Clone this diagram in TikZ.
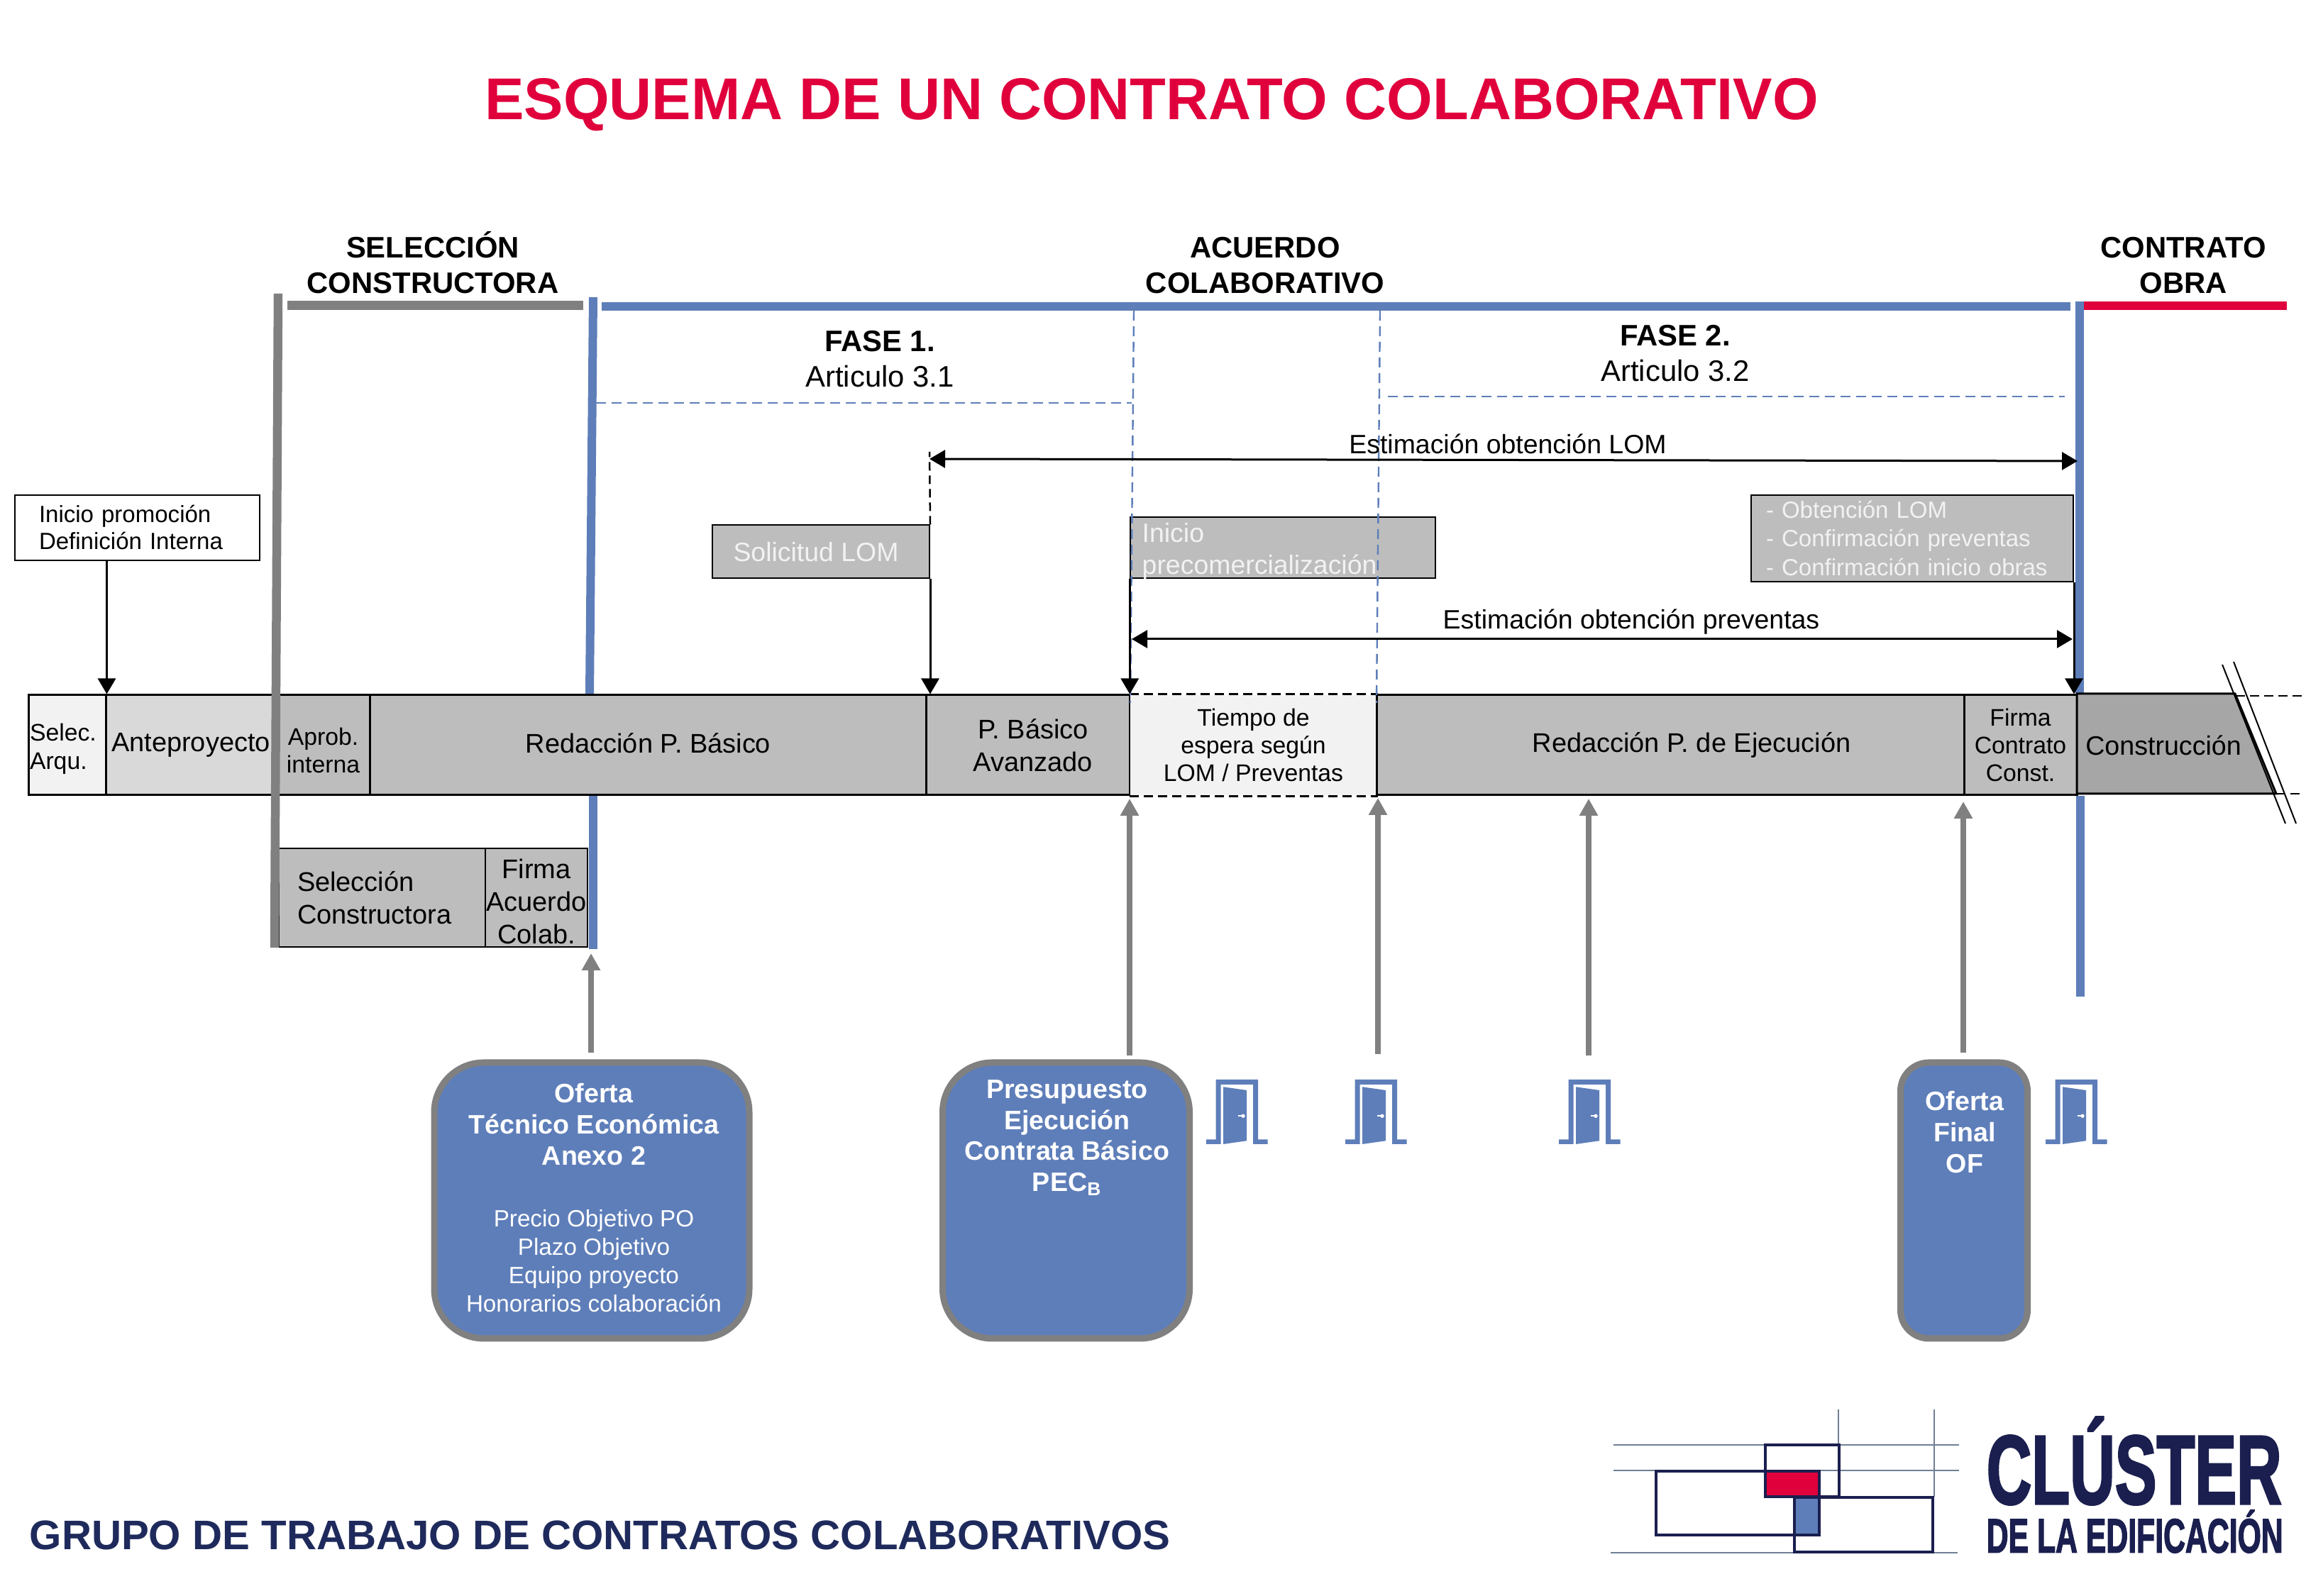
\documentclass[tikz,border=0pt]{standalone}
\usepackage{fontspec}
\setmainfont{Liberation Sans}
\newfontfamily\logofont[BoldFeatures={FakeBold=2.5}]{Liberation Sans}
\usepackage{graphicx}
\usepackage{xcolor}
\usepackage{tikz}
\usetikzlibrary{arrows.meta,positioning}
\definecolor{barblue}{HTML}{5E7EB9}
\definecolor{bargray}{HTML}{808080}
\definecolor{barred}{HTML}{E0003C}
\definecolor{navy}{HTML}{1B1F4F}
\definecolor{footnavy}{HTML}{1F2A5C}
\definecolor{cellgray}{HTML}{BDBDBD}
\definecolor{cellmid}{HTML}{D9D9D9}
\definecolor{celllight}{HTML}{F2F2F2}
\definecolor{celldark}{HTML}{A6A6A6}
\definecolor{logoline}{HTML}{6F7F95}

\begin{document}
\begin{tikzpicture}[
 cell/.style={draw=black,line width=.03cm,fill=cellgray,minimum height=1.41cm,inner sep=0pt,align=center,font=\fontsize{10.8}{13.1}\selectfont},
 small/.style={font=\fontsize{9.6}{11.2}\selectfont},
 note/.style={draw=black,line width=.02cm,fill=cellgray,inner sep=0pt,text=celllight,align=left,font=\fontsize{10.65}{12.8}\selectfont},
 head/.style={align=center,font=\fontsize{11.9}{14.2}\selectfont\bfseries},
 fase/.style={align=center,font=\fontsize{11.9}{14.2}\selectfont},
 lab/.style={font=\fontsize{10.65}{12}\selectfont},
 blue box/.style={draw=bargray,line width=.09cm,fill=barblue,minimum height=3.89cm,inner sep=0pt},
 blue text/.style={text=white,align=center,font=\fontsize{10.7}{12.5}\selectfont\bfseries},
 data text/.style={text=white,align=center,font=\fontsize{9.45}{11.4}\selectfont},
 barblue line/.style={draw=barblue,line width=.12cm},
 bargray line/.style={draw=bargray,line width=.125cm},
 phase/.style={draw=barblue,line width=.024cm,dash pattern=on .14cm off .08cm},
 arr/.style={-{Triangle[length=.22cm,width=.25cm]},line width=.03cm,draw=black},
 darr/.style={{Triangle[length=.22cm,width=.25cm]}-{Triangle[length=.22cm,width=.25cm]},line width=.03cm,draw=black},
 garr/.style={-{Triangle[length=.24cm,width=.25cm]},line width=.08cm,draw=bargray},
 door/.pic={
  \fill[barblue] (0,0)--(0,.067)--(.137,.067)--(.137,.91)--(.73,.91)--(.73,.067)--(.867,.067)--(.867,0)--(.66,0)--(.66,.84)--(.207,.84)--(.207,0)--cycle;
  \fill[barblue] (.24,0)--(.24,.807)--(.57,.76)--(.57,.047)--cycle;
  \fill[white] (.52,.397) circle (.027);
  \draw[white,line width=.016cm] (.447,.397)--(.52,.397);
 }
]
\useasboundingbox (0,0) rectangle (32.5,22.5);

\node[text=barred,font=\fontsize{23.65}{28}\selectfont\bfseries] (titulo) at (16.23,21.02) {ESQUEMA DE UN CONTRATO COLABORATIVO};

\node[head] (hsel) at (6.10,18.80) {SELECCIÓN\\CONSTRUCTORA};
\node[head] (hacu) at (17.83,18.76) {ACUERDO\\COLABORATIVO};
\node[head] (hobr) at (30.77,18.76) {CONTRATO\\OBRA};
\node[fase] (f1) at (12.40,17.44) {\textbf{FASE 1.}\\Articulo 3.1};
\node[fase] (f2) at (23.61,17.52) {\textbf{FASE 2.}\\Articulo 3.2};

\draw[bargray line] (4.05,18.195)--(8.22,18.195);
\draw[barblue line] (8.48,18.18)--(29.18,18.18);
\draw[draw=barred,line width=.126cm] (29.37,18.19)--(32.23,18.19);
\draw[barblue line] (8.36,18.31)--(8.31,12.72);
\draw[barblue line] (8.355,11.28)--(8.355,9.12);
\draw[barblue line] (29.31,18.25)--(29.31,12.73);
\draw[barblue line] (29.32,11.28)--(29.32,8.45);
\draw[phase] (8.40,16.82)--(15.95,16.82);
\draw[phase] (19.56,16.91)--(29.10,16.91);

\node[cell,fill=celllight,minimum width=1.09cm,text width=1.05cm,inner xsep=.02cm,align=left,small] (selec) at (.945,11.995) {\rule{0pt}{.35cm}Selec.\\Arqu.};
\node[cell,fill=cellmid,minimum width=2.40cm] (ante) at (2.69,11.995) {Anteproyecto};
\node[cell,minimum width=1.33cm,small] (aprob) at (4.555,11.995) {\rule{0pt}{.39cm}Aprob.\\interna};
\node[cell,minimum width=7.835cm] (basico) at (9.135,11.995) {\raisebox{.05cm}{Redacción P. Básico}};
\node[cell,minimum width=2.875cm] (avanz) at (14.49,11.995) {\hspace*{.14cm}P. Básico\\\hspace*{.14cm}Avanzado};
\node[cell,draw=none,fill=celllight,minimum width=3.47cm,small] (tiempo) at (17.665,11.995) {Tiempo de\\espera según\\LOM / Preventas};
\node[cell,minimum width=8.28cm] (ejec) at (23.54,11.995) {\hspace*{.6cm}Redacción P. de Ejecución};
\node[cell,minimum width=1.59cm,small] (firmac) at (28.475,11.995) {Firma\\Contrato\\Const.};
\draw[line width=.03cm,dash pattern=on .13cm off .07cm] (tiempo.north west)--(tiempo.north east);
\draw[line width=.03cm,dash pattern=on .13cm off .07cm] (tiempo.south west)--(tiempo.south east);

\draw[line width=.03cm,fill=celldark] (29.27,12.72)--(31.50,12.72)--(32.08,11.31)--(29.27,11.31)--cycle;
\node[font=\fontsize{10.7}{13.1}\selectfont] (constr) at (30.49,11.99) {Construcción};
\draw[line width=.02cm] (31.32,13.13)--(32.21,10.89);
\draw[line width=.02cm] (31.48,13.17)--(32.36,10.89);
\draw[line width=.02cm,dash pattern=on .13cm off .07cm] (31.51,12.69)--(32.5,12.69);
\draw[line width=.02cm,dash pattern=on .13cm off .07cm] (32.08,11.31)--(32.45,11.31);

\node[cell,line width=.02cm,minimum width=2.91cm,minimum height=1.39cm,text width=2.39cm,inner xsep=.26cm,align=left] (selcons) at (5.385,9.845) {Selección\\Constructora};
\node[cell,line width=.02cm,minimum width=1.44cm,minimum height=1.39cm] (firmaa) at (7.56,9.845) {\rule{0pt}{.39cm}Firma\\Acuerdo\\Colab.};

\draw[bargray line] (3.92,18.36)--(3.87,9.14);

\node[draw=black,line width=.02cm,minimum width=3.445cm,minimum height=.92cm,text width=2.765cm,inner xsep=.34cm,inner ysep=0pt,align=left,font=\fontsize{9.4}{10.8}\selectfont] (inicio) at (1.9325,15.06) {Inicio promoción\\Definición Interna};
\node[note,minimum width=3.06cm,minimum height=.75cm,align=center] (solic) at (11.57,14.72) {\hspace*{-.14cm}Solicitud LOM};
\node[note,minimum width=4.295cm,minimum height=.864cm] (precom) at (18.08,14.78) {};
\node[text=celllight,anchor=west,inner sep=0pt,align=left,font=\fontsize{10.65}{12.8}\selectfont] (tprecom) at (16.09,14.73) {Inicio\\precomercialización};
\node[note,minimum width=4.54cm,minimum height=1.22cm,text width=4.12cm,inner xsep=.21cm,font=\fontsize{9.4}{11.4}\selectfont] (obten) at (26.95,14.91) {- Obtención LOM\\- Confirmación preventas\\- Confirmación inicio obras};

\draw[phase] (15.98,18.12)--(15.93,12.59);
\draw[phase] (19.45,18.12)--(19.40,12.59);

\coordinate (lomi) at (13.10,16.03);
\coordinate (lomd) at (29.28,16.00);
\coordinate (prei) at (15.95,13.49);
\coordinate (pred) at (29.21,13.49);
\draw[line width=.025cm,dash pattern=on .12cm off .07cm] (solic.north east)--(13.10,16.13);
\draw[darr] (lomi)--(lomd);
\draw[darr] (prei)--(pred);
\node[lab] (tlom) at (21.25,16.24) {Estimación obtención LOM};
\node[lab] (tpre) at (22.99,13.73) {Estimación obtención preventas};

\draw[arr] (inicio.south -| selec.north east)--(selec.north east);
\draw[arr] (solic.south east)--(solic.south east |- basico.north);
\draw[arr] (precom.south west)--(precom.south west |- tiempo.north);
\draw[arr] (obten.south east)--(obten.south east |- firmac.north);

\node[blue box,minimum width=4.44cm,rounded corners=.7cm] (oferta) at (8.34,5.575) {};
\node[blue text] (toferta) at (8.37,6.65) {Oferta\\Técnico Económica\\Anexo 2};
\node[data text] (tdatos) at (8.37,4.72) {Precio Objetivo PO\\Plazo Objetivo\\Equipo proyecto\\Honorarios colaboración};
\node[blue box,minimum width=3.48cm,rounded corners=.7cm] (presup) at (15.025,5.575) {};
\node[blue text] (tpresup) at (15.04,6.46) {Presupuesto\\Ejecución\\Contrata Básico\\PEC\textsubscript{B}};
\node[blue box,minimum width=1.79cm,rounded corners=.4cm] (ofinal) at (27.68,5.575) {};
\node[blue text] (tofinal) at (27.69,6.54) {Oferta\\Final\\OF};

\coordinate (g1) at (8.33,7.66);
\coordinate (g2) at (15.92,7.62);
\coordinate (g3) at (19.42,7.64);
\coordinate (g4) at (22.39,7.62);
\coordinate (g5) at (27.67,7.66);
\draw[garr] (g1)--(8.33,9.06);
\draw[garr] (g2)--(15.92,11.24);
\draw[garr] (g3)--(19.42,11.25);
\draw[garr] (g4)--(22.39,11.24);
\draw[garr] (g5)--(27.67,11.20);

\pic at (17.00,6.37) {door};
\pic at (18.96,6.37) {door};
\pic at (21.97,6.37) {door};
\pic at (28.83,6.37) {door};

\node[anchor=west,inner sep=0pt,text=footnavy,font=\fontsize{16.57}{20}\selectfont\bfseries] (pie) at (.41,.86) {GRUPO DE TRABAJO DE CONTRATOS COLABORATIVOS};

\draw[logoline,line width=.025cm] (22.74,2.13)--(27.61,2.13);
\draw[logoline,line width=.025cm] (22.74,1.77)--(27.61,1.77);
\draw[logoline,line width=.025cm] (22.70,.61)--(27.59,.61);
\draw[logoline,line width=.012cm] (25.91,2.63)--(25.91,1.40);
\draw[logoline,line width=.012cm] (27.26,2.63)--(27.26,1.40);
\fill[barred] (24.88,1.76) rectangle (25.64,1.40);
\fill[barblue] (25.29,1.39) rectangle (25.64,.86);
\draw[navy,line width=.045cm] (24.88,2.13) rectangle (25.92,1.40);
\draw[navy,line width=.045cm] (23.34,1.76) rectangle (25.64,.86);
\draw[navy,line width=.045cm] (25.29,1.39) rectangle (27.24,.62);
\node[anchor=south west,inner sep=0pt,text=navy] (clus) at (27.99,1.28) {\resizebox{4.16cm}{1.22cm}{\logofont\bfseries CLÚSTER}};
\node[anchor=south west,inner sep=0pt,text=navy] (edif) at (27.99,.60) {\resizebox{4.18cm}{.60cm}{\logofont\bfseries DE LA EDIFICACIÓN}};
\end{tikzpicture}
\end{document}
